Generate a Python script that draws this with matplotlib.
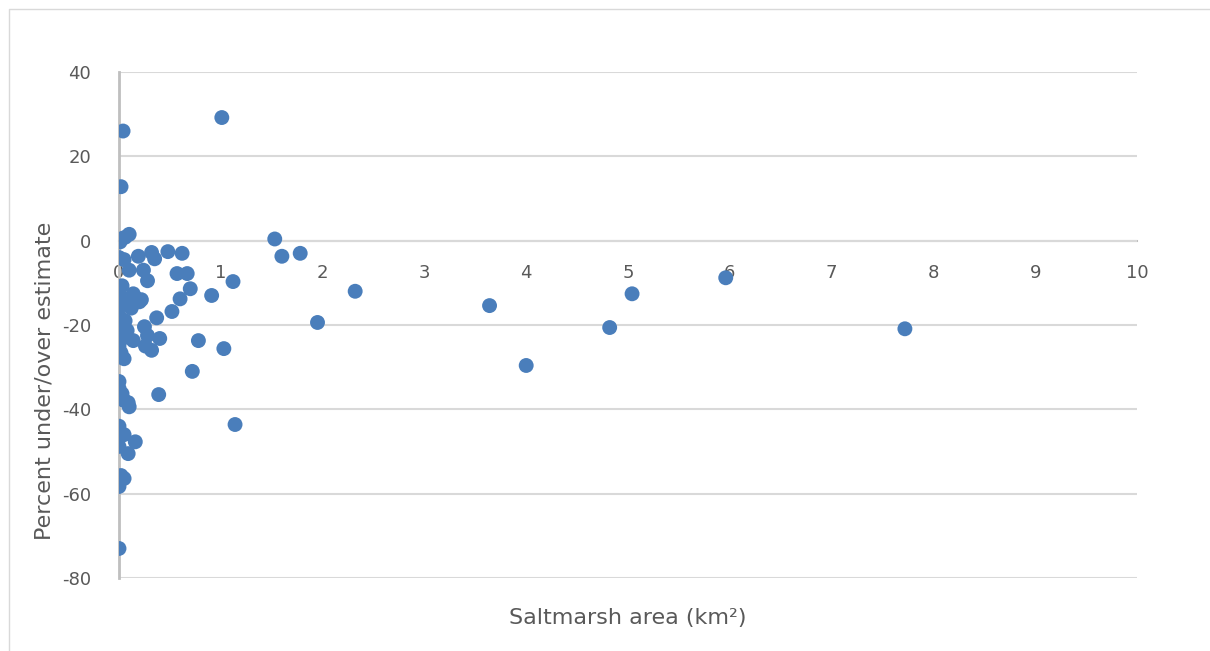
import matplotlib.pyplot as plt
from matplotlib.lines import Line2D

plt.rcParams['axes.unicode_minus'] = False

# Saltmarsh area (km2) and percent under/over estimate
area = [0.04, 0.02, 1.01, 0.00, 0.03, 0.10, 0.06, 1.53, 1.60, 1.78,
        0.00, 0.05, 0.19, 0.32, 0.48, 0.62, 0.35, 0.10, 0.24, 0.57,
        0.67, 0.28, 1.12, 0.03, 0.70, 2.32, 5.04, 5.96, 0.91, 0.00,
        0.14, 0.08, 0.20, 0.60, 3.64, 0.52, 0.00, 0.00, 0.37, 0.06,
        0.00, 0.25, 1.95, 4.82, 7.72, 0.08, 0.28, 0.05, 0.14, 0.40,
        0.78, 0.26, 0.32, 0.00, 1.03, 0.02, 0.05, 0.72, 4.00, 0.00,
        0.00, 0.03, 0.39, 0.05, 0.09, 0.10, 1.14, 0.00, 0.05, 0.16,
        0.00, 0.09, 0.02, 0.05, 0.00, 0.00, 0.01, 0.16, 0.12, 0.22]
pct = [26.0, 12.8, 29.2, 0.0, 0.5, 1.5, 0.8, 0.4, -3.7, -3.0,
       -4.0, -4.5, -3.7, -2.8, -2.6, -3.0, -4.3, -7.0, -7.0, -7.8,
       -7.8, -9.5, -9.7, -10.7, -11.4, -12.0, -12.6, -8.8, -13.0, -12.6,
       -12.6, -14.7, -14.5, -13.8, -15.4, -16.8, -15.6, -17.8, -18.3, -19.0,
       -20.0, -20.4, -19.4, -20.6, -20.9, -21.3, -22.5, -23.0, -23.7, -23.2,
       -23.7, -25.0, -26.0, -25.0, -25.6, -26.6, -28.0, -31.0, -29.6, -33.4,
       -35.0, -36.3, -36.5, -37.9, -38.4, -39.4, -43.6, -44.0, -46.0, -47.7,
       -48.8, -50.5, -55.7, -56.4, -58.3, -73.0, -0.3, -13.5, -16.0, -14.0]

x_ticks = list(range(0, 11))
y_ticks = [40, 20, 0, -20, -40, -60, -80]

fig = plt.figure(figsize=(12.1, 6.51), dpi=100)
ax = fig.add_axes([119 / 1210, 1 - 578 / 651, (1137 - 119) / 1210, (578 - 72) / 651])

ax.scatter(area, pct, s=115, color='#4a7ebb', edgecolors='none', zorder=3)

ax.set_xlim(0, 10)
ax.set_ylim(-80, 40)
ax.set_xticks(x_ticks)
ax.set_yticks(y_ticks)
ax.grid(axis='y', color='#d9d9d9', linewidth=1.5, zorder=0)

for side in ['top', 'right']:
    ax.spines[side].set_visible(False)
ax.spines['bottom'].set_position(('data', 0))
ax.spines['bottom'].set_color('#bfbfbf')
ax.spines['bottom'].set_linewidth(1.5)
ax.spines['left'].set_color('#bfbfbf')
ax.spines['left'].set_linewidth(2)
ax.spines['bottom'].set_zorder(1)

ax.tick_params(axis='x', length=0, pad=17, labelsize=13, labelcolor='#595959')
ax.tick_params(axis='y', length=0, pad=20, labelsize=13, labelcolor='#595959')

fig.text(628 / 1210, 1 - 618 / 651, 'Saltmarsh area (km²)', ha='center', va='center',
         fontsize=16, color='#595959')
fig.text(45 / 1210, 1 - 381 / 651, 'Percent under/over estimate', ha='center', va='center',
         rotation=90, fontsize=16, color='#595959')

# chart area border: left and top edges
bx, by = 8.5 / 1210, 1 - 8.5 / 651
fig.lines.append(Line2D([bx, bx, 1.0], [0.0, by, by], transform=fig.transFigure,
                        color='#d9d9d9', linewidth=1))

fig.savefig('out.png', dpi=100)
